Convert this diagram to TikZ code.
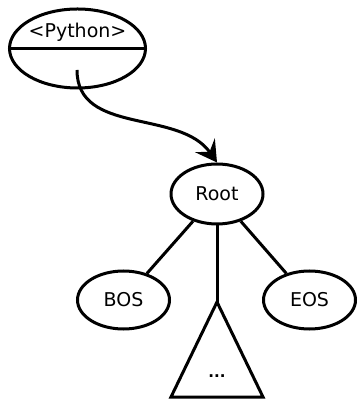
\documentclass[tikz,border=0pt]{standalone}
\usepackage{fontspec}
\setmainfont{DejaVu Sans}
\usetikzlibrary{arrows.meta,shapes.geometric}

\begin{document}
\begin{tikzpicture}[
  x=0.5pt,y=-0.5pt,
  every node/.style={font=\fontsize{9.5}{11}\selectfont},
  vertex/.style={ellipse,draw,line width=1.5pt,minimum width=46pt,minimum height=29pt,inner sep=0pt},
  edge/.style={line width=1.5pt},
  arrow/.style={-{Stealth[length=10.5pt,width=12pt,inset=4pt]},line width=1.5pt}
]
\useasboundingbox (0,0) rectangle (357,399);
% grammar box
\node[vertex,minimum width=68pt,minimum height=39.5pt] (python) at (77.5,48.5) {};
\draw[edge] (python.west) -- (python.east);
\node (lang) at (77.5,32) {<Python>};
\coordinate (port) at (77,70);

% tree
\node[vertex,minimum height=30pt] (root) at (217,194) {Root};
\node[vertex] (bos) at (123.5,300) {BOS};
\node[vertex] (eos) at (309.5,300) {EOS};
\coordinate (sub) at (217,302);
\draw[edge] (sub) -- (171,397) -- (263,397) -- cycle;
\node[font=\fontsize{7.5}{9}\selectfont\bfseries] (dots) at (217,376) {...};

\draw[arrow] (port) to[out=-90,in=125] (root.north);
\draw[edge] (root) -- (bos);
\draw[edge] (root) -- (eos);
\draw[edge] (root) -- (sub);
\end{tikzpicture}
\end{document}
